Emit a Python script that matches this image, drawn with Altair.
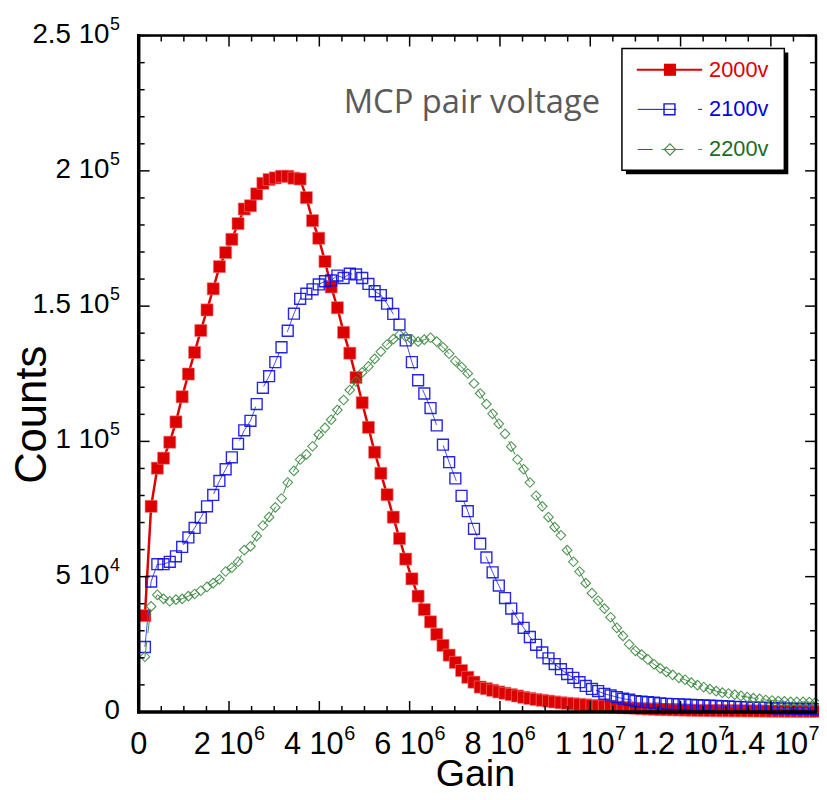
import altair as alt
import pandas as pd

# ---------------- data ----------------
GAIN_STEP = 1.375e5  # width of one gain bin

# counts in units of 1000, one value per gain bin
COUNTS_2000V = [
    35.6, 76.0, 90.1, 93.8, 99.7, 107.2, 116.5, 124.9, 132.9, 141.0,
    148.6, 156.4, 164.6, 169.8, 174.7, 180.5, 185.9, 187.1, 191.5, 195.4,
    196.8, 197.4, 198.0, 198.0, 197.3, 197.0, 190.1, 181.6, 175.1, 166.5,
    157.1, 149.4, 140.3, 132.6, 123.6, 114.3, 105.2, 96.0, 88.2, 80.3,
    72.0, 64.1, 56.5, 49.2, 42.8, 37.8, 33.3, 28.7, 24.6, 21.0,
    18.3, 15.3, 12.8, 11.0, 9.2, 8.6, 8.0, 7.4, 6.9, 6.4,
    5.9, 5.4, 5.0, 4.6, 4.3, 4.0, 3.7, 3.4, 3.2, 3.0,
    2.8, 2.6, 2.4, 2.2, 2.1, 1.9, 1.8, 1.6, 1.5, 1.4,
    1.2, 1.1, 1.0, 0.9, 0.85, 0.8, 0.75, 0.7, 0.65, 0.6,
    0.55, 0.5, 0.48, 0.46, 0.44, 0.42, 0.4, 0.38, 0.36, 0.34,
    0.32, 0.3, 0.29, 0.28, 0.27, 0.26, 0.25, 0.24, 0.23,
]
COUNTS_2100V = [
    24.0, 48.2, 54.6, 54.6, 55.5, 57.5, 61.0, 64.5, 68.0, 71.8,
    76.0, 80.2, 85.4, 89.7, 94.1, 99.1, 104.1, 107.6, 113.8, 119.8,
    124.1, 129.3, 134.8, 140.9, 147.2, 152.7, 154.6, 156.2, 158.0, 159.2,
    159.5, 161.3, 160.4, 162.0, 161.7, 160.4, 158.2, 155.5, 154.1, 150.9,
    147.1, 143.2, 137.3, 129.3, 122.6, 117.7, 112.3, 105.9, 98.8, 92.3,
    86.3, 79.9, 74.2, 67.7, 62.2, 57.1, 51.6, 46.7, 42.1, 38.2,
    34.5, 31.1, 27.7, 24.8, 22.0, 19.8, 17.7, 15.8, 14.0, 12.6,
    11.0, 9.6, 8.5, 7.7, 6.7, 6.1, 5.5, 4.9, 4.5, 4.0,
    3.8, 3.6, 3.4, 3.2, 3.0, 2.9, 2.8, 2.7, 2.6, 2.5,
    2.4, 2.3, 2.2, 2.1, 2.0, 1.9, 1.8, 1.7, 1.6, 1.55,
    1.5, 1.4, 1.35, 1.3, 1.25, 1.2, 1.15, 1.1, 1.05,
]
COUNTS_2200V = [
    20.4, 39.0, 43.3, 41.8, 40.9, 41.5, 41.8, 42.8, 43.6, 44.8,
    46.2, 47.6, 49.0, 51.9, 53.3, 55.5, 59.8, 61.2, 65.0, 68.9,
    72.0, 75.6, 78.9, 84.8, 89.1, 93.3, 95.2, 98.2, 102.5, 105.0,
    108.0, 111.6, 115.3, 119.0, 122.2, 125.5, 127.7, 130.5, 133.2, 135.8,
    137.8, 139.4, 138.7, 137.6, 136.9, 137.6, 138.3, 136.9, 134.8, 132.4,
    129.7, 127.5, 125.1, 121.4, 117.7, 113.8, 110.2, 106.5, 102.8, 98.1,
    93.3, 89.7, 84.8, 79.9, 76.0, 72.0, 68.3, 65.3, 59.8, 55.5,
    51.9, 47.6, 43.9, 41.1, 38.2, 35.0, 31.1, 28.1, 25.0, 22.6,
    21.2, 19.4, 17.6, 16.1, 14.8, 13.7, 12.6, 11.9, 10.8, 9.9,
    9.2, 8.4, 7.7, 7.1, 6.8, 6.4, 5.9, 5.5, 5.1, 4.8,
    4.4, 4.2, 4.0, 3.9, 3.7, 3.7, 3.7, 3.6, 3.5,
]

SERIES_LABELS = ["2000v", "2100v", "2200v"]
ANNOTATION = "MCP pair voltage"
X_TITLE = "Gain"
Y_TITLE = "Counts"

X_MAJOR = [0, 2e6, 4e6, 6e6, 8e6, 1e7, 1.2e7, 1.4e7]
X_TICK_MANTISSA = ["0", "2 10", "4 10", "6 10", "8 10", "1 10", "1.2 10", "1.4 10"]
X_TICK_EXPONENT = ["", "6", "6", "6", "6", "7", "7", "7"]
X_MINOR = [k * 5e5 for k in range(1, 30) if k % 4 != 0]
Y_MAJOR = [0, 5e4, 1e5, 1.5e5, 2e5, 2.5e5]
Y_TICK_MANTISSA = ["0", "5 10", "1 10", "1.5 10", "2 10", "2.5 10"]
Y_TICK_EXPONENT = ["", "4", "5", "5", "5", "5"]
Y_MINOR = [k * 1e4 for k in range(1, 25) if k % 5 != 0]

# ---------------- style ----------------
W, H = 684, 683
RED = "#dd0000"
BLUE = "#1010e0"
BLUE_LINE = "#4a4af0"
GREEN = "#3f8a44"
GREEN_TEXT = "#1d6b22"
FONT = "Liberation Sans, Arial, Helvetica, sans-serif"
XL_FS, XE_FS = 31, 20     # x tick label / exponent font sizes
YL_FS, YE_FS = 28, 18     # y tick label / exponent font sizes

xscale = alt.Scale(domain=[0, 1.5e7], nice=False, zero=False)
yscale = alt.Scale(domain=[0, 2.5e5], nice=False, zero=False)


def text_width(s, fs):
    # Arial / Liberation Sans advance widths
    return sum(0.556 if c.isdigit() else 0.278 for c in s) * fs


def series_df(counts):
    return pd.DataFrame({
        "gain": [(i + 1) * GAIN_STEP for i in range(len(counts))],
        "counts": [c * 1000 for c in counts],
    })


df_r, df_b, df_g = series_df(COUNTS_2000V), series_df(COUNTS_2100V), series_df(COUNTS_2200V)

X = lambda: alt.X("gain:Q", scale=xscale, axis=None)
Y = lambda: alt.Y("counts:Q", scale=yscale, axis=None)

# data layers
red_line = alt.Chart(df_r).mark_line(color=RED, strokeWidth=2.5).encode(x=X(), y=Y())
red_pts = alt.Chart(df_r).mark_point(shape="square", filled=True, size=150, color=RED,
                                     opacity=1, stroke="#f08080", strokeWidth=0.6).encode(x=X(), y=Y())
blue_line = alt.Chart(df_b).mark_line(color=BLUE_LINE, strokeWidth=1, strokeDash=[38, 22]).encode(x=X(), y=Y())
blue_pts = alt.Chart(df_b).mark_point(shape="square", filled=False, size=121, color=BLUE,
                                      strokeWidth=1.4, opacity=0.9).encode(x=X(), y=Y())
green_line = alt.Chart(df_g).mark_line(color=GREEN, strokeWidth=1, strokeDash=[15, 9, 22, 15]).encode(x=X(), y=Y())
green_pts = alt.Chart(df_g).mark_point(shape="diamond", filled=False, size=95, color=GREEN,
                                       strokeWidth=1.1, opacity=0.9).encode(x=X(), y=Y())


# ticks (inward, all four sides)
def xticks(vals, length):
    d = pd.DataFrame({"gain": vals})
    bottom = alt.Chart(d).mark_rule(color="black", strokeWidth=1.5).encode(
        x=X(), y=alt.value(H), y2=alt.value(H - length))
    top = alt.Chart(d).mark_rule(color="black", strokeWidth=1.5).encode(
        x=X(), y=alt.value(0), y2=alt.value(length))
    return [bottom, top]


def yticks(vals, length):
    d = pd.DataFrame({"counts": vals})
    left = alt.Chart(d).mark_rule(color="black", strokeWidth=1.5).encode(
        y=Y(), x=alt.value(0), x2=alt.value(length))
    right = alt.Chart(d).mark_rule(color="black", strokeWidth=1.5).encode(
        y=Y(), x=alt.value(W), x2=alt.value(W - length))
    return [left, right]


ticks = xticks(X_MAJOR, 11) + xticks(X_MINOR, 6) + yticks(Y_MAJOR, 11) + yticks(Y_MINOR, 6)

# tick labels with real superscript exponents
X_BASE = H + 42
labels = []
for v, m, e in zip(X_MAJOR, X_TICK_MANTISSA, X_TICK_EXPONENT):
    mw, ew = text_width(m, XL_FS), text_width(e, XE_FS)
    d = pd.DataFrame({"gain": [v], "m": [m], "e": [e]})
    labels.append(alt.Chart(d).mark_text(font=FONT, fontSize=XL_FS, color="black", align="left",
                                         baseline="alphabetic", dx=-(mw + ew) / 2)
                  .encode(x=X(), y=alt.value(X_BASE), text="m:N"))
    if e:
        labels.append(alt.Chart(d).mark_text(font=FONT, fontSize=XE_FS, color="black", align="left",
                                             baseline="alphabetic", dx=(mw - ew) / 2 + 0.5)
                      .encode(x=X(), y=alt.value(X_BASE - 14), text="e:N"))

Y_RIGHT = -19
for v, m, e in zip(Y_MAJOR, Y_TICK_MANTISSA, Y_TICK_EXPONENT):
    ew = text_width(e, YE_FS)
    d = pd.DataFrame({"counts": [v], "m": [m], "e": [e]})
    labels.append(alt.Chart(d).mark_text(font=FONT, fontSize=YL_FS, color="black", align="right",
                                         baseline="alphabetic", dy=7, dx=-(ew + 0.5 if e else 0))
                  .encode(y=Y(), x=alt.value(Y_RIGHT), text="m:N"))
    if e:
        labels.append(alt.Chart(d).mark_text(font=FONT, fontSize=YE_FS, color="black", align="right",
                                             baseline="alphabetic", dy=-6)
                      .encode(y=Y(), x=alt.value(Y_RIGHT), text="e:N"))

one = pd.DataFrame({"a": [0]})

# frame
frame = [
    alt.Chart(one).mark_rule(color="black", strokeWidth=3.5).encode(x=alt.value(0), y=alt.value(-1.5), y2=alt.value(H + 1.5)),
    alt.Chart(one).mark_rule(color="black", strokeWidth=3.5).encode(y=alt.value(H), x=alt.value(-1.5), x2=alt.value(W + 1)),
    alt.Chart(one).mark_rule(color="black", strokeWidth=2.5).encode(y=alt.value(0), x=alt.value(0), x2=alt.value(W + 1)),
    alt.Chart(one).mark_rule(color="black", strokeWidth=2.5).encode(x=alt.value(W), y=alt.value(0), y2=alt.value(H)),
]

# legend box
LX0, LX1, LY0, LY1 = 488, 652, 13, 136
legend = [
    alt.Chart(one).mark_rect(color="black").encode(
        x=alt.value(LX0 + 4), x2=alt.value(LX1 + 4), y=alt.value(LY0 + 4), y2=alt.value(LY1 + 4)),
    alt.Chart(one).mark_rect(fill="white", stroke="black", strokeWidth=1.5).encode(
        x=alt.value(LX0), x2=alt.value(LX1), y=alt.value(LY0), y2=alt.value(LY1)),
]
rows_y = [34.5, 74.5, 115]
text_colors = [RED, "#0000e6", GREEN_TEXT]
legend += [
    alt.Chart(one).mark_rule(color=RED, strokeWidth=2).encode(x=alt.value(503), x2=alt.value(569), y=alt.value(rows_y[0])),
    alt.Chart(one).mark_point(shape="square", filled=True, size=150, color=RED, opacity=1).encode(
        x=alt.value(536.5), y=alt.value(rows_y[0])),
    alt.Chart(one).mark_rule(color=BLUE, strokeWidth=1).encode(x=alt.value(504), x2=alt.value(543), y=alt.value(rows_y[1])),
    alt.Chart(one).mark_rule(color=BLUE, strokeWidth=1).encode(x=alt.value(565), x2=alt.value(569), y=alt.value(rows_y[1])),
    alt.Chart(one).mark_point(shape="square", filled=False, size=121, color=BLUE, strokeWidth=1.4, opacity=1).encode(
        x=alt.value(536), y=alt.value(rows_y[1])),
    alt.Chart(one).mark_rule(color=GREEN_TEXT, strokeWidth=1).encode(x=alt.value(504), x2=alt.value(519), y=alt.value(rows_y[2])),
    alt.Chart(one).mark_rule(color=GREEN, strokeWidth=1).encode(x=alt.value(528), x2=alt.value(550), y=alt.value(rows_y[2])),
    alt.Chart(one).mark_rule(color=GREEN, strokeWidth=1).encode(x=alt.value(565), x2=alt.value(569), y=alt.value(rows_y[2])),
    alt.Chart(one).mark_point(shape="diamond", filled=False, size=130, color=GREEN, strokeWidth=1.1, opacity=1).encode(
        x=alt.value(536.5), y=alt.value(rows_y[2])),
]
for lab, ry, col in zip(SERIES_LABELS, rows_y, text_colors):
    legend.append(alt.Chart(one).mark_text(text=lab, font=FONT, fontSize=22, color=col, align="left",
                                           baseline="middle").encode(x=alt.value(576), y=alt.value(ry)))

# texts
texts = [
    alt.Chart(one).mark_text(text=ANNOTATION, font="Open Sans, sans-serif", fontSize=33, color="#5a5a5a",
                             align="left", baseline="middle").encode(x=alt.value(207), y=alt.value(68)),
    alt.Chart(one).mark_text(text=Y_TITLE, font=FONT, fontSize=44, color="black", angle=270,
                             align="center", baseline="middle").encode(x=alt.value(-107), y=alt.value(383)),
    alt.Chart(one).mark_text(text=X_TITLE, font=FONT, fontSize=38, color="black",
                             align="center", baseline="alphabetic").encode(x=alt.value(340), y=alt.value(758)),
]

chart = alt.layer(
    red_line, red_pts, blue_line, blue_pts, green_line, green_pts,
    *ticks, *frame, *labels, *legend, *texts,
).properties(
    width=W, height=H,
    autosize=alt.AutoSizeParams(type="none"),
    padding={"left": 132, "top": 24, "right": 3, "bottom": 77},
).configure_view(stroke=None).configure(background="white")

chart.save("out.html", embed_options={"renderer": "svg", "actions": False})
